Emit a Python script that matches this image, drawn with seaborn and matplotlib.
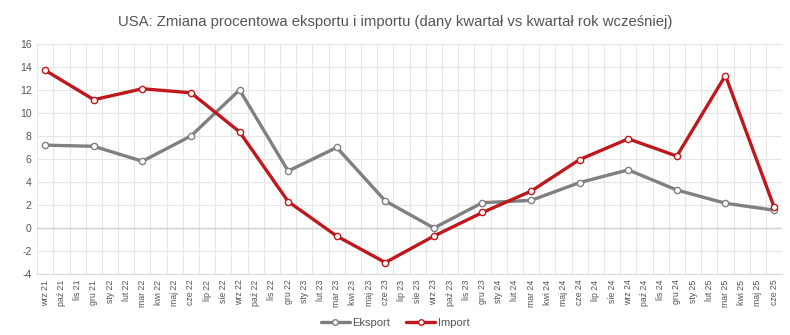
import matplotlib
matplotlib.use("Agg")
import matplotlib.pyplot as plt
import seaborn as sns
import pandas as pd
import numpy as np
from matplotlib.lines import Line2D

months = ["wrz 21", "paź 21", "lis 21", "gru 21",
          "sty 22", "lut 22", "mar 22", "kwi 22", "maj 22", "cze 22", "lip 22", "sie 22", "wrz 22", "paź 22", "lis 22", "gru 22",
          "sty 23", "lut 23", "mar 23", "kwi 23", "maj 23", "cze 23", "lip 23", "sie 23", "wrz 23", "paź 23", "lis 23", "gru 23",
          "sty 24", "lut 24", "mar 24", "kwi 24", "maj 24", "cze 24", "lip 24", "sie 24", "wrz 24", "paź 24", "lis 24", "gru 24",
          "sty 25", "lut 25", "mar 25", "kwi 25", "maj 25", "cze 25"]

quarters = ["wrz 21", "gru 21", "mar 22", "cze 22", "wrz 22", "gru 22", "mar 23", "cze 23",
            "wrz 23", "gru 23", "mar 24", "cze 24", "wrz 24", "gru 24", "mar 25", "cze 25"]

eksport = [7.2, 7.1, 5.8, 8.0, 12.0, 4.95, 7.0, 2.35, 0.0, 2.2, 2.4, 3.95, 5.05, 3.3, 2.15, 1.55]
import_ = [13.7, 11.15, 12.1, 11.75, 8.35, 2.3, -0.7, -3.0, -0.7, 1.35, 3.2, 5.95, 7.75, 6.25, 13.25, 1.85]

series_names = ["Eksport", "Import"]
colors = {"Eksport": "#808080", "Import": "#c0171c"}

pos = [months.index(q) for q in quarters]
series_values = {"Eksport": eksport, "Import": import_}

sns.set_theme(style="white")
plt.rcParams["font.family"] = ["Liberation Sans", "DejaVu Sans"]
plt.rcParams["axes.unicode_minus"] = False

fig = plt.figure(figsize=(7.9, 3.35), dpi=100)
ax = fig.add_axes([0.047, 0.182, 0.943, 0.687])

for i, name in enumerate(series_names):
    df = pd.DataFrame({"x": pos, "value": series_values[name]})
    sns.lineplot(data=df, x="x", y="value", color=colors[name], ax=ax,
                 linewidth=2.4, marker="o", markersize=4.5, markerfacecolor="white",
                 markeredgecolor=colors[name], markeredgewidth=1.0, zorder=3 + i)

ax.set_xlim(-0.5, len(months) - 0.5)
ax.set_ylim(-4, 16)
ax.set_yticks(np.arange(-4, 17, 2))
ax.set_xticks(range(len(months)))
ax.set_xticklabels(months, rotation=90, fontsize=6.3, color="#555555")
ax.tick_params(axis="y", labelsize=7.5, colors="#555555", length=0, pad=4)
ax.tick_params(axis="x", length=0, pad=4)

ax.set_xticks(np.arange(-0.5, len(months), 1), minor=True)
ax.tick_params(axis="x", which="minor", length=0)
ax.grid(False)
ax.grid(True, which="minor", axis="x", color="#e6e6e6", linewidth=0.8)
ax.grid(True, which="major", axis="y", color="#e6e6e6", linewidth=0.8)
ax.axhline(0, color="#d0d0d0", linewidth=1.0, zorder=1)
for s in ["top", "right", "left"]:
    ax.spines[s].set_visible(False)
ax.spines["bottom"].set_color("#d9d9d9")
ax.spines["bottom"].set_linewidth(0.8)
ax.set_xlabel("")
ax.set_ylabel("")

fig.text(0.5, 0.935, "USA: Zmiana procentowa eksportu i importu (dany kwartał vs kwartał rok wcześniej)",
         ha="center", va="center", fontsize=10.7, color="#555555")

handles = [Line2D([0], [0], color=colors[n], linewidth=2.4, marker="o", markersize=4,
                  markerfacecolor="white", markeredgecolor=colors[n], markeredgewidth=1.0)
           for n in series_names]
fig.legend(handles, series_names, loc="center", bbox_to_anchor=(0.5, 0.035), ncol=2,
           frameon=False, fontsize=8, handlelength=2.6, handletextpad=0.2, columnspacing=1.5,
           labelcolor="#555555")

fig.savefig("out.png", dpi=100)
